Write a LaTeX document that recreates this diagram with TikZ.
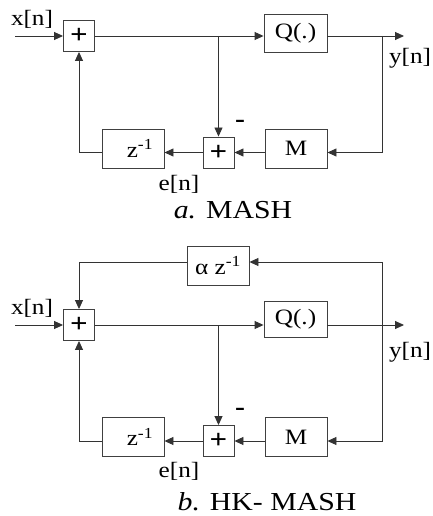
\documentclass[tikz,border=0pt]{standalone}
\usepackage{fontspec}
\setmainfont{Liberation Serif}[FakeStretch=1.15]
\usetikzlibrary{arrows.meta}
\newcommand\lblfont{\fontsize{22}{26}\selectfont}
\newcommand\capfont{\fontsize{26}{30}\selectfont}
\newcommand\plusfont{\fontsize{27}{30}\selectfont\bfseries}
\newcommand\minusfont{\fontsize{26}{30}\selectfont\bfseries}
\begin{document}
\begin{tikzpicture}[x=1bp,y=-1bp,
  blk/.style={draw=black!75, line width=0.9bp, minimum width=62bp, minimum height=39bp, inner sep=0pt, font=\lblfont},
  sumb/.style={draw=black!75, line width=0.9bp, minimum width=31bp, minimum height=31bp, inner sep=0pt, font=\plusfont},
  wire/.style={draw=black!80, line width=0.9bp},
  arr/.style={wire, -{Triangle[length=9bp,width=8bp]}},
  lbl/.style={font=\lblfont, inner sep=0pt},
  minus/.style={font=\minusfont, inner sep=0pt},
  captext/.style={font=\capfont, inner sep=0pt}]
\useasboundingbox (0,0) rectangle (433,516);

% ---------- a. MASH ----------
\node[sumb] (sa1) at (79,36) {+};
\node[blk, minimum width=63bp, minimum height=38bp] (qa) at (295.5,33) {Q(.)};
\node[sumb] (sa2) at (218.5,152.5) {+};
\node[blk] (ma) at (296,148.5) {M};
\node[blk] (za) at (133,148.5) {\hspace*{14bp}z\textsuperscript{-1}};
\coordinate (ina) at (15,36);
\coordinate (outa) at (404,36);
\coordinate (ya) at (382,36);

\draw[arr] (ina) -- (sa1.west);
\draw[arr] (sa1.east) -- (qa.west |- sa1.east);
\draw[arr] (qa.east |- sa1.east) -- (outa);
\draw[arr] (sa2.north |- sa1.east) -- (sa2.north);
\draw[arr] (ya) |- (ma.east |- sa2.east);
\draw[arr] (ma.west |- sa2.east) -- (sa2.east);
\draw[arr] (sa2.west) -- (za.east |- sa2.west);
\draw[arr] (za.west |- sa2.west) -| (sa1.south);

\node[lbl] (xa) at (32,19) {x[n]};
\node[lbl] (yla) at (410,58) {y[n]};
\node[lbl] (ea) at (179,184) {e[n]};
\node[minus] (mia) at (240,124) {-};
\node[captext] (capa) at (233,210) {\textit{a.} MASH};

% ---------- b. HK-MASH ----------
\node[sumb] (sb1) at (79,325) {+};
\node[blk] (ab) at (218,265.5) {α z\textsuperscript{-1}};
\node[blk, minimum width=63bp, minimum height=36bp] (qb) at (295.5,319) {Q(.)};
\node[sumb] (sb2) at (218.5,441) {+};
\node[blk] (mb) at (296,437) {M};
\node[blk] (zb) at (133,437) {\hspace*{14bp}z\textsuperscript{-1}};
\coordinate (inb) at (15,325);
\coordinate (outb) at (404,325);
\coordinate (fb) at (382,262);

\draw[arr] (inb) -- (sb1.west);
\draw[arr] (sb1.east) -- (qb.west |- sb1.east);
\draw[arr] (qb.east |- sb1.east) -- (outb);
\draw[arr] (fb) -- (ab.east |- fb);
\draw[arr] (ab.west |- fb) -| (sb1.north);
\draw[arr] (fb) |- (mb.east |- sb2.east);
\draw[arr] (sb2.north |- sb1.east) -- (sb2.north);
\draw[arr] (mb.west |- sb2.east) -- (sb2.east);
\draw[arr] (sb2.west) -- (zb.east |- sb2.west);
\draw[arr] (zb.west |- sb2.west) -| (sb1.south);

\node[lbl] (xb) at (32,308) {x[n]};
\node[lbl] (ylb) at (410,352) {y[n]};
\node[lbl] (eb) at (179,471) {e[n]};
\node[minus] (mib) at (240,412) {-};
\node[captext] (capb) at (267,502) {\textit{b.} HK- MASH};
\end{tikzpicture}
\end{document}
